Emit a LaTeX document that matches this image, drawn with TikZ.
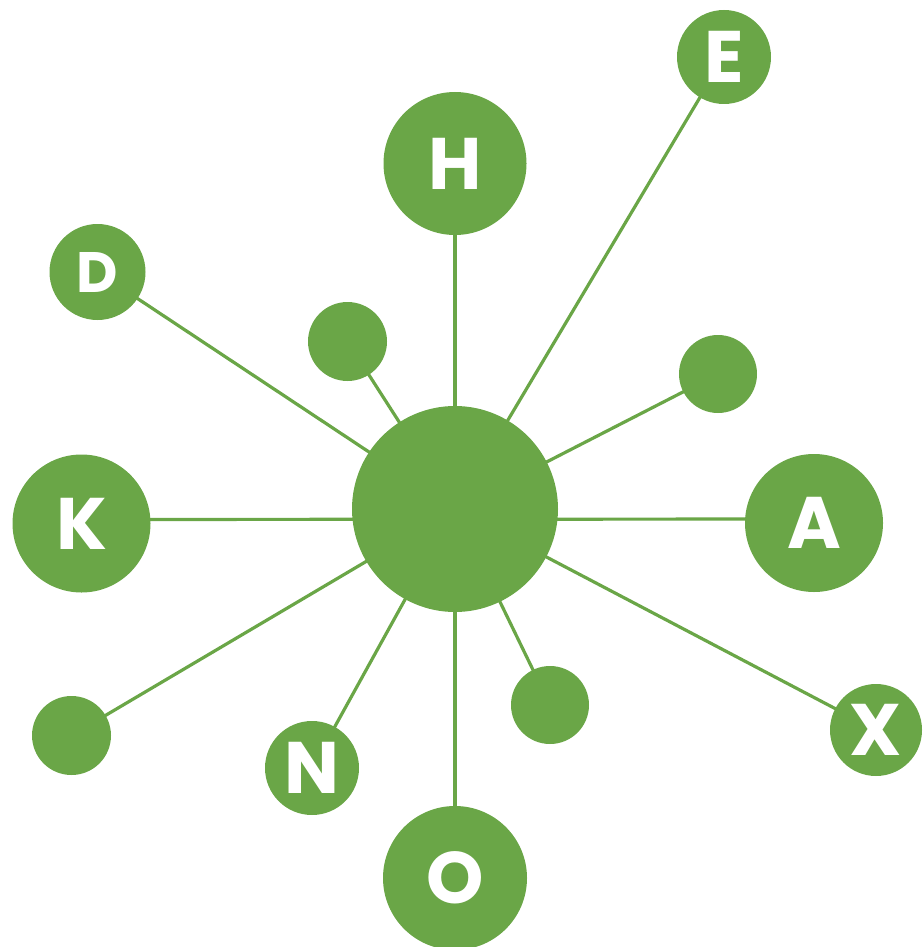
\documentclass[tikz,border=0pt]{standalone}
\usepackage{fontspec}
\setmainfont{Poppins}
\usetikzlibrary{backgrounds}
\definecolor{leaf}{HTML}{6AA647}
\begin{document}
\begin{tikzpicture}[x=1pt,y=-1pt,
  dot/.style={circle,fill=leaf,inner sep=0pt,text=white,font=\bfseries\fontsize{73}{73}\selectfont},
  smallfont/.style={font=\bfseries\fontsize{57}{57}\selectfont},
  link/.style={draw=leaf,line width=3.2pt}]
\useasboundingbox (0,0) rectangle (922,947);
\node[dot,minimum size=206pt] (hub) at (455,509) {};
\node[dot,minimum size=143pt] (H) at (455,163.5) {H};
\node[dot,minimum size=94pt] (E) at (724,57) {E};
\node[dot,smallfont,minimum size=96pt] (D) at (97.5,272) {D};
\node[dot,minimum size=79pt] (s1) at (347.5,341.5) {};
\node[dot,minimum size=78pt] (s2) at (718,374) {};
\node[dot,minimum size=138pt] (K) at (81.5,523.5) {K};
\node[dot,minimum size=138pt] (A) at (814,523) {A};
\node[dot,minimum size=79pt] (s3) at (71.5,735.5) {};
\node[dot,minimum size=94pt] (N) at (312,768) {N};
\node[dot,minimum size=78pt] (s4) at (550,705) {};
\node[dot,minimum size=92pt] (X) at (876,730) {X};
\node[dot,minimum size=144pt] (O) at (455,878) {O};
\begin{scope}[on background layer]
\draw[link] (hub.center) -- (H.center);
\draw[link] (hub.center) -- (E.center);
\draw[link] (hub.center) -- (D.center);
\draw[link] (hub.center) -- (s1.center);
\draw[link] (hub.center) -- (s2.center);
\draw[link] ([yshift=4pt]K.center) -- ([yshift=4pt]A.center);
\draw[link] (hub.center) -- (s3.center);
\draw[link] (hub.center) -- (N.center);
\draw[link] (hub.center) -- (s4.center);
\draw[link] (hub.center) -- (X.center);
\draw[link] (hub.center) -- (O.center);
\end{scope}
\end{tikzpicture}
\end{document}
